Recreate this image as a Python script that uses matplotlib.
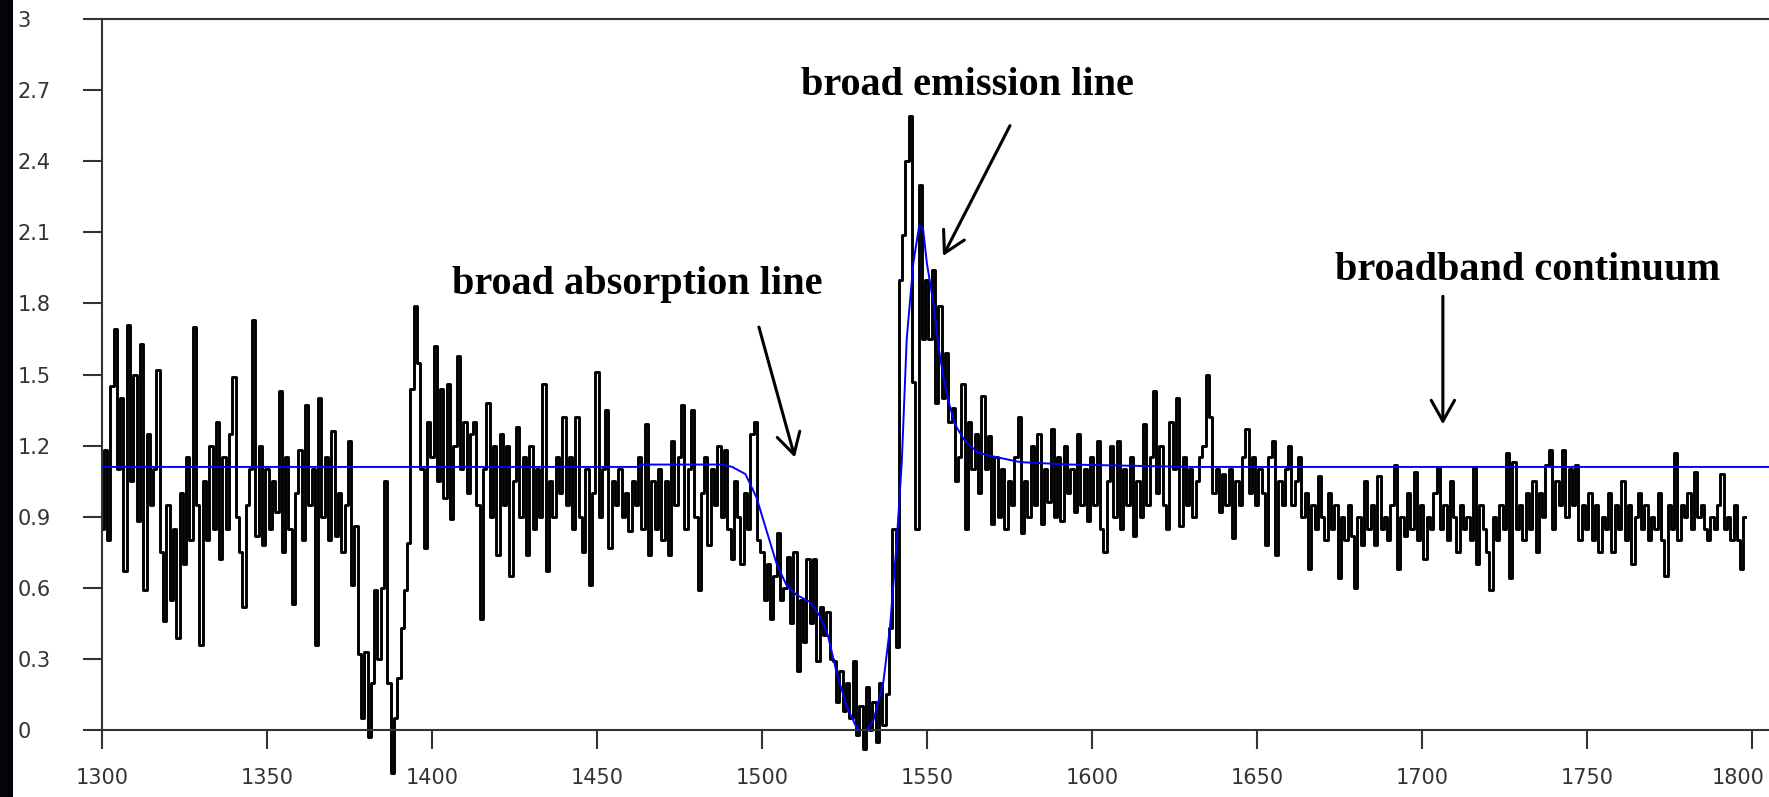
import numpy as np
import matplotlib
matplotlib.use("Agg")
import matplotlib.pyplot as plt
from matplotlib.patches import Rectangle
from matplotlib.transforms import ScaledTranslation

# ---------------- data ----------------
wavelength = np.arange(1300, 1799)

flux = [
    0.85, 1.18, 0.80, 1.45, 1.69, 1.10, 1.40, 0.67, 1.71, 1.05,
    1.50, 0.88, 1.63, 0.59, 1.25, 0.95, 1.10, 1.52, 0.75, 0.46,
    0.95, 0.55, 0.85, 0.39, 1.00, 0.70, 1.15, 0.80, 1.70, 0.95,
    0.36, 1.05, 0.80, 1.20, 0.85, 1.30, 0.72, 1.15, 0.85, 1.25,
    1.49, 0.90, 0.75, 0.52, 0.95, 1.10, 1.73, 0.82, 1.20, 0.78,
    1.10, 0.85, 1.05, 0.92, 1.43, 0.75, 1.15, 0.85, 0.53, 1.00,
    1.18, 0.80, 1.37, 0.95, 1.10, 0.36, 1.40, 0.90, 1.15, 0.80,
    1.26, 0.82, 1.00, 0.75, 0.95, 1.22, 0.61, 0.86, 0.32, 0.05,
    0.33, -0.03, 0.20, 0.59, 0.30, 0.60, 1.05, 0.20, -0.18, 0.05,
    0.22, 0.43, 0.59, 0.79, 1.44, 1.79, 1.55, 1.10, 0.77, 1.30,
    1.15, 1.62, 1.05, 1.44, 0.98, 1.46, 0.89, 1.20, 1.58, 1.10,
    1.30, 1.00, 1.25, 1.30, 0.95, 0.47, 1.10, 1.38, 0.90, 1.20,
    0.74, 1.25, 0.95, 1.20, 0.65, 1.05, 1.28, 0.90, 1.15, 0.74,
    1.20, 0.85, 1.10, 0.90, 1.46, 0.67, 1.05, 0.90, 1.15, 1.00,
    1.32, 0.95, 1.15, 0.85, 1.32, 0.90, 0.75, 1.10, 0.61, 1.00,
    1.51, 0.90, 1.10, 1.35, 0.77, 1.05, 0.95, 1.10, 0.90, 1.00,
    0.84, 1.05, 0.95, 1.15, 0.85, 1.29, 0.74, 1.05, 0.85, 1.10,
    0.80, 1.05, 0.74, 1.22, 0.95, 1.15, 1.37, 0.85, 1.10, 1.35,
    0.90, 0.59, 1.00, 1.15, 0.78, 1.10, 0.95, 1.20, 0.90, 1.18,
    0.85, 0.72, 1.05, 0.90, 0.70, 1.00, 0.85, 1.25, 1.30, 0.80,
    0.75, 0.55, 0.70, 0.47, 0.65, 0.83, 0.55, 0.60, 0.73, 0.45,
    0.75, 0.25, 0.55, 0.37, 0.72, 0.45, 0.72, 0.29, 0.52, 0.40,
    0.50, 0.30, 0.29, 0.12, 0.25, 0.08, 0.20, 0.05, 0.29, -0.02,
    0.10, -0.08, 0.18, 0.00, 0.12, -0.05, 0.20, 0.02, 0.15, 0.43,
    0.85, 0.35, 1.90, 2.09, 2.40, 2.59, 1.47, 0.85, 2.30, 1.65,
    1.90, 1.65, 1.94, 1.38, 1.79, 1.40, 1.59, 1.30, 1.36, 1.05,
    1.15, 1.46, 0.85, 1.30, 1.10, 1.25, 1.00, 1.41, 1.10, 1.24,
    0.87, 1.15, 0.90, 1.10, 0.85, 1.05, 0.95, 1.15, 1.32, 0.83,
    1.05, 0.90, 1.20, 0.95, 1.25, 0.87, 1.10, 0.96, 1.27, 0.90,
    1.15, 0.88, 1.20, 1.00, 1.10, 0.92, 1.25, 0.95, 1.10, 0.88,
    1.15, 0.95, 1.22, 0.85, 0.75, 1.05, 1.20, 0.90, 1.22, 0.85,
    1.10, 0.95, 1.15, 0.82, 1.05, 0.90, 1.29, 0.95, 1.15, 1.43,
    1.00, 1.20, 0.95, 0.85, 1.30, 1.10, 1.40, 0.86, 1.15, 0.95,
    1.10, 0.90, 1.05, 1.15, 1.20, 1.50, 1.32, 1.00, 1.10, 0.92,
    1.08, 0.95, 1.10, 0.81, 1.05, 0.95, 1.15, 1.27, 1.00, 1.15,
    0.95, 1.10, 1.00, 0.78, 1.15, 1.22, 0.74, 1.05, 0.95, 1.10,
    1.20, 0.95, 1.05, 1.15, 0.90, 1.00, 0.68, 0.95, 0.85, 1.07,
    0.90, 0.80, 1.00, 0.85, 0.95, 0.64, 0.90, 0.80, 0.95, 0.82,
    0.60, 0.90, 0.78, 1.05, 0.85, 0.95, 0.78, 1.07, 0.85, 0.90,
    0.80, 0.95, 1.12, 0.68, 0.90, 0.82, 1.00, 0.85, 1.09, 0.80,
    0.95, 0.72, 0.90, 0.85, 1.00, 1.11, 0.85, 0.95, 0.80, 1.05,
    0.90, 0.75, 0.95, 0.85, 0.90, 0.80, 1.11, 0.70, 0.95, 0.85,
    0.75, 0.59, 0.90, 0.80, 0.95, 0.85, 1.17, 0.64, 1.13, 0.85,
    0.95, 0.80, 1.00, 0.85, 1.05, 0.75, 1.00, 0.90, 1.12, 1.18,
    0.85, 1.05, 0.95, 1.18, 0.90, 1.10, 0.95, 1.12, 0.80, 0.95,
    0.85, 1.00, 0.80, 0.95, 0.75, 0.90, 0.85, 1.00, 0.75, 0.95,
    0.85, 1.05, 0.80, 0.95, 0.70, 0.90, 1.00, 0.85, 0.95, 0.80,
    0.90, 0.85, 1.00, 0.80, 0.65, 0.95, 0.85, 1.17, 0.80, 0.95,
    0.90, 1.00, 0.85, 1.09, 0.90, 0.95, 0.85, 0.80, 0.90, 0.85,
    0.95, 1.08, 0.85, 0.90, 0.80, 0.95, 0.80, 0.68, 0.90,
]

model_x = [1300, 1463, 1463, 1488, 1491, 1495, 1498.4, 1501, 1504.5, 1507.5,
           1510.5, 1514.6, 1517.6, 1520, 1522.7, 1525.7, 1528.7, 1530.7, 1533.8, 1536.8,
           1538.8, 1540.8, 1542.4, 1543.9, 1545.9, 1547.7, 1548.9, 1550, 1552, 1553.5,
           1555, 1556.5, 1558.5, 1561.5, 1565.5, 1571.5, 1578.5, 1593.5, 1630, 1806]
model_y = [1.11, 1.11, 1.12, 1.12, 1.11, 1.08, 0.98, 0.86, 0.70, 0.61,
           0.57, 0.54, 0.48, 0.40, 0.24, 0.10, 0.01, -0.02, 0.04, 0.20,
           0.43, 0.78, 1.13, 1.65, 1.97, 2.13, 2.11, 1.97, 1.80, 1.62,
           1.49, 1.39, 1.29, 1.22, 1.17, 1.15, 1.13, 1.12, 1.11, 1.11]

x_ticks = [1300, 1350, 1400, 1450, 1500, 1550, 1600, 1650, 1700, 1750, 1800]
y_ticks = [0, 0.3, 0.6, 0.9, 1.2, 1.5, 1.8, 2.1, 2.4, 2.7, 3]
y_tick_labels = ["0", "0.3", "0.6", "0.9", "1.2", "1.5", "1.8", "2.1", "2.4", "2.7", "3"]

labels = ["broad absorption line", "broad emission line", "broadband continuum"]
label_pos = [(1462.1, 1.88), (1562.2, 2.72), (1732.2, 1.94)]
arrow_tail = [(1499.1, 1.70), (1575.2, 2.55), (1706.4, 1.83)]
arrow_head = [(1510.0, 1.15), (1554.9, 2.00), (1706.4, 1.29)]

# ---------------- figure ----------------
W, H = 1769, 797
fig = plt.figure(figsize=(W / 100, H / 100), dpi=100)
fig.patch.set_facecolor("white")
fig.patches.append(Rectangle((0, 0), 13 / W, 1, transform=fig.transFigure,
                             facecolor="#03030c", edgecolor="none", zorder=0))

ax = fig.add_axes([102 / W, 1 - 730 / H, (W - 102) / W, (730 - 19) / H])
ax.set_facecolor("white")

ax.step(wavelength, flux, where="mid", color="black", lw=2.1, clip_on=False, zorder=2)
ax.plot(model_x, model_y, color="#0000ff", lw=1.4, zorder=3)

ax.set_xlim(1300, 1300 + (W - 102) / 3.2994)
ax.set_ylim(0, 3)

for s in ["left", "top", "bottom"]:
    ax.spines[s].set_linewidth(1.5)
    ax.spines[s].set_color("#333333")
ax.spines["right"].set_visible(False)

ax.set_xticks(x_ticks)
ax.set_xticklabels([str(t) for t in x_ticks])
ax.set_yticks(y_ticks)
ax.set_yticklabels(y_tick_labels)
ax.tick_params(axis="both", direction="out", length=14, width=1.5, color="#333333",
               labelsize=15, labelcolor="#333333")
ax.tick_params(axis="x", pad=13)
ax.tick_params(axis="y", pad=47)
for lab in ax.get_yticklabels():
    lab.set_horizontalalignment("left")
for lab in ax.get_xticklabels() + ax.get_yticklabels():
    lab.set_fontfamily("DejaVu Sans")
# keep the last x label inside the picture, as in the reference
last = ax.get_xticklabels()[-1]
last.set_transform(last.get_transform() + ScaledTranslation(-0.14, 0, fig.dpi_scale_trans))

for text, pos in zip(labels, label_pos):
    ax.text(pos[0], pos[1], text, ha="center", va="center",
            fontsize=29, fontweight="bold", family="Liberation Serif", color="black")

for tail, head in zip(arrow_tail, arrow_head):
    ax.annotate("", xy=head, xytext=tail,
                arrowprops=dict(arrowstyle="->,head_length=0.75,head_width=0.42",
                                lw=2.2, color="black", shrinkA=0, shrinkB=0,
                                mutation_scale=20))

fig.savefig("out.png", dpi=100)
